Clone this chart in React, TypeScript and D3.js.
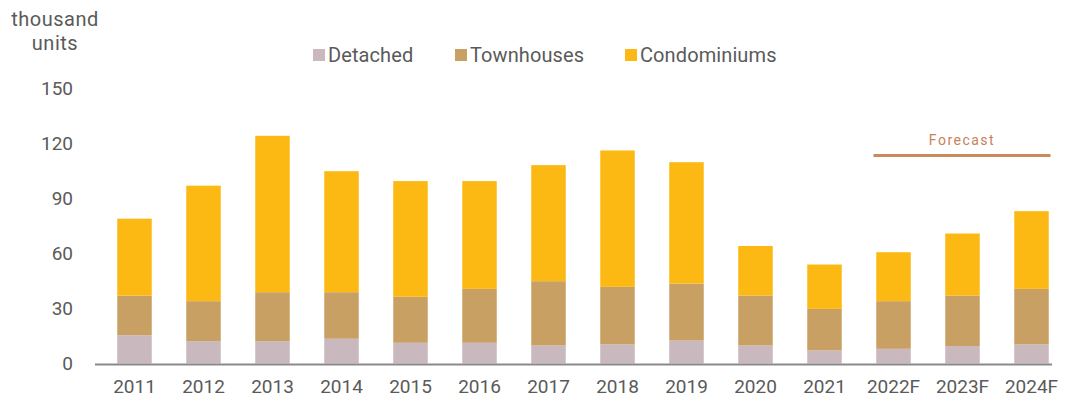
import React from "react";
import * as d3 from "d3";

const years = ["2011", "2012", "2013", "2014", "2015", "2016", "2017", "2018", "2019", "2020", "2021", "2022F", "2023F", "2024F"];
const detached = [15.4, 12.2, 12.2, 13.5, 11.3, 11.3, 9.8, 10.4, 12.5, 9.8, 7.1, 8.0, 9.5, 10.4];
const townhouses = [21.6, 21.8, 26.7, 25.4, 25.1, 29.4, 35.1, 31.4, 31.1, 27.3, 22.7, 26.0, 27.6, 30.3];
const condominiums = [42.0, 63.0, 85.3, 66.0, 63.1, 58.8, 63.3, 74.4, 66.2, 27.0, 24.2, 26.7, 33.8, 42.4];
const yTicks = [0, 30, 60, 90, 120, 150];
const seriesNames = ["Detached", "Townhouses", "Condominiums"];
const forecastYears = ["2022F", "2023F", "2024F"];

const COLORS = ["#c9b8be", "#c9a063", "#fdb913"];
const W = 1065;
const H = 410;
const FONT = "Roboto, 'DejaVu Sans', sans-serif";
const TEXT = "#5a5a5a";

export default function App() {
  const x = d3.scaleBand<string>().domain(years).range([100, 1066]).paddingInner(0.5).paddingOuter(0.25);
  const y = d3.scaleLinear().domain([0, 150]).range([363.5, 88.5]);

  const rows = years.map((yr, i) => ({
    year: yr,
    Detached: detached[i],
    Townhouses: townhouses[i],
    Condominiums: condominiums[i],
  }));
  const stack = d3.stack<any>().keys(seriesNames)(rows);

  const fx0 = (x(forecastYears[0]) as number) + x.bandwidth() / 2 - 20;
  const fx1 = (x(forecastYears[forecastYears.length - 1]) as number) + x.bandwidth() / 2 + 19;

  const legendPos = [313, 455, 625];

  return (
    <svg width={W} height={H} style={{ position: "absolute", left: 0, top: 0, background: "#fff" }} fontFamily={FONT}>
      <text x={55} y={26} textAnchor="middle" fontSize={20} letterSpacing={0.5} fill={TEXT}>thousand</text>
      <text x={55} y={50} textAnchor="middle" fontSize={20} letterSpacing={0.5} fill={TEXT}>units</text>

      {yTicks.map((t) => (
        <text key={t} x={73} y={y(t)} dy="0.35em" textAnchor="end" fontSize={19} fill={TEXT}>
          {t}
        </text>
      ))}

      {stack.map((layer, si) => (
        <g key={layer.key} fill={COLORS[si]}>
          {layer.map((d: any, i: number) => (
            <rect
              key={i}
              x={x(years[i])}
              width={x.bandwidth()}
              y={y(d[1])}
              height={y(d[0]) - y(d[1])}
            />
          ))}
        </g>
      ))}

      <line x1={95} x2={1052} y1={364.5} y2={364.5} stroke="#8a8a8a" strokeWidth={2} />

      {years.map((yr) => (
        <text
          key={yr}
          x={(x(yr) as number) + x.bandwidth() / 2}
          y={393}
          textAnchor="middle"
          fontSize={19}
          fill={TEXT}
        >
          {yr}
        </text>
      ))}

      {seriesNames.map((s, i) => (
        <g key={s}>
          <rect x={legendPos[i]} y={49} width={12} height={12} fill={COLORS[i]} />
          <text x={legendPos[i] + 15} y={62} fontSize={20} letterSpacing={0.1} fill={TEXT}>
            {s}
          </text>
        </g>
      ))}

      <line x1={fx0} x2={fx1} y1={155.5} y2={155.5} stroke="#c98a5e" strokeWidth={3} />
      <text x={(fx0 + fx1) / 2} y={145} textAnchor="middle" fontSize={14} letterSpacing={1.5} fill="#c4835a">
        Forecast
      </text>
    </svg>
  );
}
